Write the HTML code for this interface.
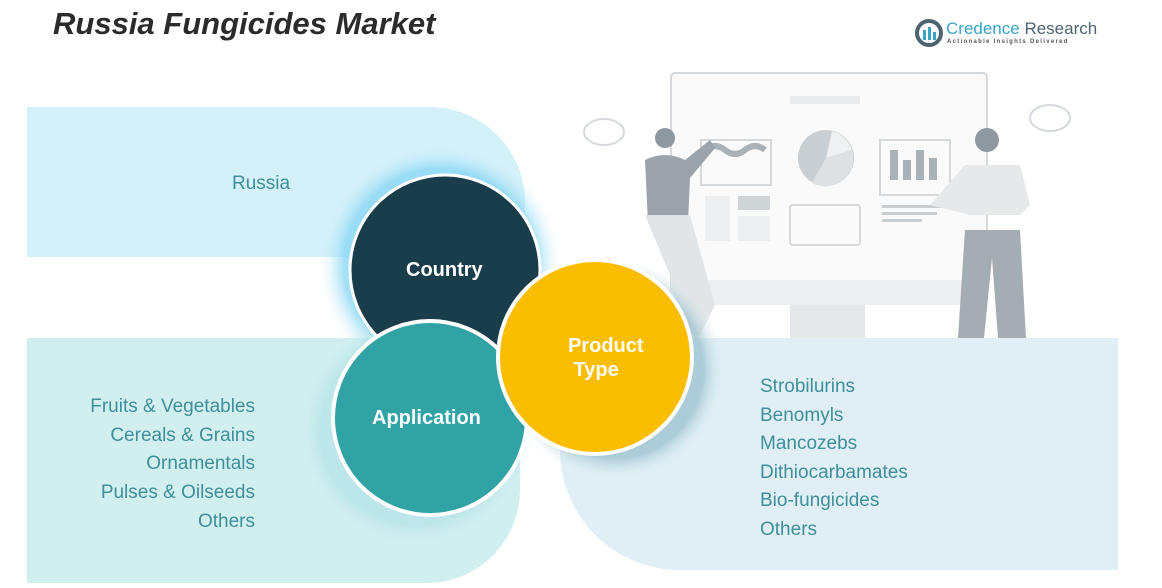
<!DOCTYPE html>
<html><head><meta charset="utf-8"><style>
html,body{margin:0;padding:0;background:#fff}
#c{position:relative;width:1162px;height:588px;overflow:hidden;font-family:"Liberation Sans",sans-serif}
.a{position:absolute}
.t{position:absolute;color:#3f8f9a;font-size:19px;white-space:nowrap}
.r{text-align:right}
</style></head><body><div id="c">
<svg class="a" style="left:0;top:0" width="1162" height="588">
<defs>
<radialGradient id="g1" cx="0.5" cy="0.5" r="0.5"><stop offset="0.8" stop-color="#7fd3f3"/><stop offset="1" stop-color="#d4f1fa" stop-opacity="0"/></radialGradient>
<radialGradient id="g3" cx="0.5" cy="0.5" r="0.5"><stop offset="0.8" stop-color="#9fc3d0"/><stop offset="1" stop-color="#e0eff5" stop-opacity="0"/></radialGradient>
<radialGradient id="g2" cx="0.5" cy="0.5" r="0.5"><stop offset="0.8" stop-color="#aee0e4"/><stop offset="1" stop-color="#d2eff0" stop-opacity="0"/></radialGradient>
</defs>
<path d="M27 107 H430 A95 95 0 0 1 525 202 V257 H27 Z" fill="#d4f1fa"/>
<path d="M27 338 H520 V490 A93 93 0 0 1 427 583 H27 Z" fill="#d2eff0"/>
<path d="M560 338 H1118 V570 H680 A120 120 0 0 1 560 450 Z" fill="#e0eff5"/>
<g fill="none" stroke="#d5d9dc" stroke-width="2">
<rect x="671" y="73" width="316" height="228" rx="4" fill="#fafafa"/>
<rect x="701" y="140" width="70" height="45"/>
<rect x="880" y="140" width="70" height="55"/>
<rect x="790" y="205" width="70" height="40" rx="3"/>
<ellipse cx="604" cy="132" rx="20" ry="13"/>
<ellipse cx="1050" cy="118" rx="20" ry="13"/>
</g>
<rect x="790" y="96" width="70" height="8" fill="#e8eaec"/>
<rect x="705" y="196" width="25" height="45" fill="#eceeef"/><rect x="738" y="196" width="32" height="14" fill="#cfd4d7"/><rect x="738" y="216" width="32" height="25" fill="#eceeef"/>
<rect x="882" y="205" width="60" height="3" fill="#c9ced1"/><rect x="882" y="212" width="55" height="3" fill="#c9ced1"/><rect x="882" y="219" width="40" height="3" fill="#c9ced1"/>
<circle cx="826" cy="158" r="28" fill="#c8ced2"/><path d="M826 158 L832 131 A28 28 0 0 1 852 150 Z" fill="#eef0f1"/><path d="M826 158 L852 150 A28 28 0 0 1 812 183 Z" fill="#dde1e3"/>
<path d="M705 150 q10 -8 20 0 t20 0 t20 0" stroke="#a9b1b6" stroke-width="6" fill="none"/>
<rect x="890" y="150" width="8" height="30" fill="#a9b2b7"/><rect x="903" y="160" width="8" height="20" fill="#a9b2b7"/><rect x="916" y="150" width="8" height="30" fill="#a9b2b7"/><rect x="929" y="158" width="8" height="22" fill="#a9b2b7"/>
<rect x="671" y="280" width="316" height="25" fill="#eceeef"/>
<rect x="790" y="305" width="75" height="33" fill="#e5e8ea"/>
<circle cx="665" cy="138" r="10" fill="#8d989f"/>
<path d="M645 160 q20 -10 40 0 l25 -20 5 8 -25 30 -2 45 h-40 z" fill="#9aa4aa"/>
<path d="M645 215 h45 l25 90 -15 30 h-20 l-10 -60 z" fill="#e2e5e7"/>
<circle cx="987" cy="140" r="12" fill="#8d989f"/>
<path d="M965 165 h55 l10 40 -10 10 h-50 l-40 -10 z" fill="#e6e8ea"/>
<path d="M965 230 h55 l6 108 h-28 l-6 -80 -8 80 h-26 z" fill="#a4adb2"/>
<circle cx="440" cy="265" r="120" fill="url(#g1)" opacity="0.7"/>
<circle cx="615" cy="370" r="110" fill="url(#g3)" opacity="0.8"/>
<circle cx="415" cy="430" r="118" fill="url(#g2)" opacity="0.6"/>
<circle cx="445" cy="270" r="95" fill="#193d4b" stroke="#fff" stroke-width="3"/>
<circle cx="430" cy="418" r="97" fill="#32a3a5" stroke="#fff" stroke-width="4"/>
<circle cx="595" cy="357" r="97" fill="#fbbd00" stroke="#fff" stroke-width="4"/>
</svg>
<div class="a" style="left:53px;top:6px;font-size:31px;font-weight:bold;font-style:italic;color:#2b2b2b">Russia Fungicides Market</div>
<svg class="a" style="left:914px;top:18px" width="30" height="30"><circle cx="15" cy="15" r="12" fill="none" stroke="#4d6470" stroke-width="4"/><rect x="9" y="12" width="3" height="10" fill="#3aa3c6"/><rect x="14" y="9" width="3" height="13" fill="#3aa3c6"/><rect x="19" y="14" width="3" height="8" fill="#3aa3c6"/></svg>
<div class="a" style="left:946px;top:19px;font-size:17px;color:#3aa3c6">Credence <span style="color:#4d6470">Research</span></div>
<div class="a" style="left:947px;top:39px;font-size:6px;letter-spacing:1.3px;color:#555;font-weight:bold">Actionable Insights Delivered</div>
<div class="a" style="left:406px;top:259px;font-size:20px;font-weight:bold;color:#fff">Country</div>
<div class="a" style="left:372px;top:407px;font-size:20px;font-weight:bold;color:#fff">Application</div>
<div class="a" style="left:568px;top:334px;font-size:20px;font-weight:bold;color:#fff;line-height:24px">Product<br>&nbsp;Type</div>
<div class="t" style="left:232px;top:173px">Russia</div>
<div class="t r" style="right:907px;top:393px;line-height:28.7px">Fruits &amp; Vegetables<br>Cereals &amp; Grains<br>Ornamentals<br>Pulses &amp; Oilseeds<br>Others</div>
<div class="t" style="left:760px;top:373px;line-height:28.6px">Strobilurins<br>Benomyls<br>Mancozebs<br>Dithiocarbamates<br>Bio-fungicides<br>Others</div>
</div></body></html>
